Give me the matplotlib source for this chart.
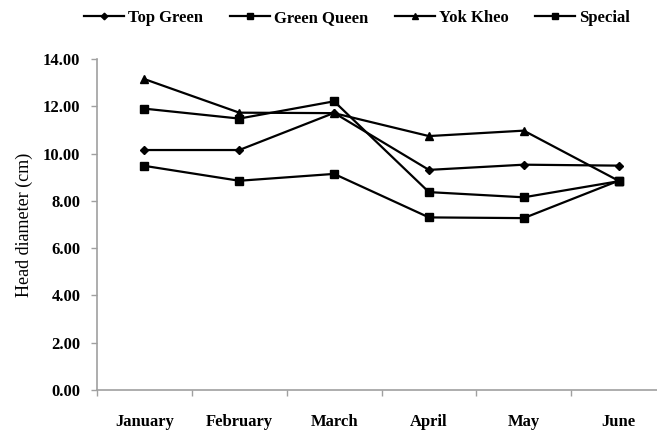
import matplotlib
matplotlib.use("Agg")
import matplotlib.pyplot as plt
from matplotlib.ticker import FixedLocator, FuncFormatter

months = ["January", "February", "March", "April", "May", "June"]
top_green = [10.15, 10.15, 11.72, 9.31, 9.53, 9.49]
green_queen = [11.90, 11.48, 12.21, 8.37, 8.15, 8.83]
yok_kheo = [13.15, 11.73, 11.71, 10.74, 10.97, 8.85]
special = [9.48, 8.85, 9.14, 7.30, 7.27, 8.85]
y_ticks = [0, 2, 4, 6, 8, 10, 12, 14]

plt.rcParams["font.family"] = ["Liberation Serif", "DejaVu Serif"]

fig = plt.figure(figsize=(6.57, 4.36), dpi=100)
ax = fig.add_axes([97 / 657, 46 / 436, 569 / 657, 331 / 436])

x = list(range(len(months)))
line_kw = dict(color="black", linewidth=1.6, clip_on=False)
ax.plot(x, top_green, marker="D", markersize=4.2, label="Top Green", **line_kw)
ax.plot(x, green_queen, marker="s", markersize=6, label="Green Queen", **line_kw)
ax.plot(x, yok_kheo, marker="^", markersize=6, label="Yok Kheo", **line_kw)
ax.plot(x, special, marker="s", markersize=5.8, label="Special", **line_kw)

ax.set_xlim(-0.5, len(months) - 0.5)
ax.set_ylim(0, 14)
ax.set_yticks(y_ticks)
ax.yaxis.set_major_formatter(FuncFormatter(lambda v, _: f"{v:.2f}"))

# category boundaries carry the tick marks, centres carry the labels
ax.xaxis.set_major_locator(FixedLocator([i - 0.5 for i in x]))
ax.xaxis.set_major_formatter(FuncFormatter(lambda v, _: ""))
ax.xaxis.set_minor_locator(FixedLocator(x))
ax.set_xticks(x, months, minor=True)

for side in ("top", "right"):
    ax.spines[side].set_visible(False)
for side in ("left", "bottom"):
    ax.spines[side].set_color("#a0a0a0")
    ax.spines[side].set_linewidth(1.2)

ax.tick_params(axis="both", which="major", direction="out", length=4,
               color="#a0a0a0", width=1)
ax.tick_params(axis="y", which="major", pad=8, labelsize=12)
ax.tick_params(axis="x", which="minor", length=0, pad=17, labelsize=12)
for lbl in ax.get_yticklabels() + ax.get_xticklabels(minor=True):
    lbl.set_fontweight("bold")

ax.set_ylabel("Head diameter (cm)", fontsize=13, labelpad=7)

fig.legend(loc="center", bbox_to_anchor=(357 / 657, 1 - 18 / 436), ncol=4,
           frameon=False, handlelength=2.4, handletextpad=0.25,
           columnspacing=1.6, markerscale=0.8,
           prop={"weight": "bold", "size": 12})

fig.savefig("out.png", dpi=100)
